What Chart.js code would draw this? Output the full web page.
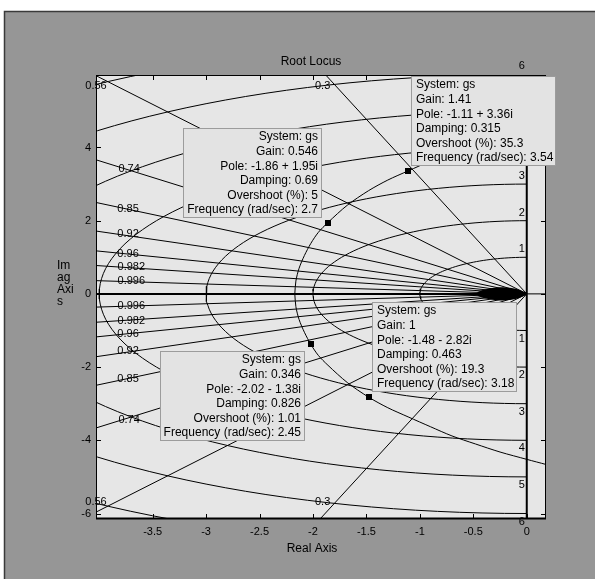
<!DOCTYPE html>
<html>
<head>
<meta charset="utf-8">
<script src="https://cdn.jsdelivr.net/npm/chart.js@4.4.0/dist/chart.umd.min.js"></script>
<style>
  html, body { margin: 0; padding: 0; background: #ffffff; }
</style>
</head>
<body>
<canvas id="rlocus" width="595" height="579"></canvas>
<script>
// axis limits and ticks
var xLimits = [-4.03, 0.18];
var yLimits = [-6.15, 5.98];
var xTickValues = [-3.5, -3, -2.5, -2, -1.5, -1, -0.5, 0];
var yTickValues = [-6, -4, -2, 0, 2, 4];

// sgrid: damping ratios and natural frequencies
var zetaValues = [0.3, 0.56, 0.74, 0.85, 0.92, 0.96, 0.982, 0.996];
var wnValues = [1, 2, 3, 4, 5, 6, 7];
var wnLabelValues = [1, 2, 3, 4, 5, 6];

// root locus branch, upper half (lower half is the mirror)
var locusRe = [-2.17, -2.16, -2.13, -2.08, -2.02, -1.95, -1.86, -1.68, -1.48, -1.30, -1.11, -0.90, -0.70, -0.48, -0.25, 0, 0.18];
var locusIm = [0, 0.35, 0.70, 1.05, 1.38, 1.68, 1.95, 2.42, 2.82, 3.11, 3.36, 3.63, 3.88, 4.10, 4.32, 4.52, 4.66];

// dense branches crowding the origin (upper half)
var nearRe = [-0.46, -0.40, -0.32, -0.24, -0.16, -0.08, 0];
var nearIm = [0.03, 0.09, 0.14, 0.16, 0.15, 0.10, 0];

// data tips
var tipGain = [1.41, 0.546, 1, 0.346];
var tipRe = [-1.11, -1.86, -1.48, -2.02];
var tipIm = [3.36, 1.95, -2.82, -1.38];
var tipDamping = [0.315, 0.69, 0.463, 0.826];
var tipOvershoot = [35.3, 5, 19.3, 1.01];
var tipFreq = [3.54, 2.7, 3.18, 2.45];

// where each tip box sits against its marker
var tipCorner = ['bl', 'br', 'bl', 'tr'];

// damping labels drawn on the grid lines (data coords)
var zetaLabels = [
  { t: '0.56', x: -4.03, y: 5.68 }, { t: '0.74', x: -3.72, y: 3.40 },
  { t: '0.85', x: -3.73, y: 2.33 }, { t: '0.92', x: -3.73, y: 1.63 },
  { t: '0.96', x: -3.73, y: 1.10 }, { t: '0.982', x: -3.70, y: 0.73 },
  { t: '0.996', x: -3.70, y: 0.35 },
  { t: '0.996', x: -3.70, y: -0.32 }, { t: '0.982', x: -3.70, y: -0.74 },
  { t: '0.96', x: -3.73, y: -1.10 }, { t: '0.92', x: -3.73, y: -1.56 },
  { t: '0.85', x: -3.73, y: -2.32 }, { t: '0.74', x: -3.72, y: -3.44 },
  { t: '0.56', x: -4.03, y: -5.68 },
  { t: '0.3', x: -1.91, y: 5.68 }, { t: '0.3', x: -1.91, y: -5.68 }
];

var datasets = [];

// damping lines through the origin
zetaValues.forEach(function (z) {
  var th = Math.acos(z);
  datasets.push({
    data: [{ x: -10 * Math.cos(th), y: 10 * Math.sin(th) }, { x: 0, y: 0 }, { x: -10 * Math.cos(th), y: -10 * Math.sin(th) }],
    borderColor: '#000', borderWidth: 1
  });
});

// natural frequency semicircles
wnValues.forEach(function (r) {
  var pts = [];
  for (var a = 90; a <= 270; a += 2) {
    pts.push({ x: r * Math.cos(a * Math.PI / 180), y: r * Math.sin(a * Math.PI / 180) });
  }
  datasets.push({ data: pts, borderColor: '#000', borderWidth: 1 });
});

// real and imaginary axes
datasets.push({ data: [{ x: -6, y: 0 }, { x: 0, y: 0 }], borderColor: '#000', borderWidth: 2 });
datasets.push({ data: [{ x: 0, y: 0 }, { x: 1, y: 0 }], borderColor: '#000', borderWidth: 1 });
datasets.push({ data: [{ x: 0, y: -8 }, { x: 0, y: 8 }], borderColor: '#000', borderWidth: 2 });

// locus branches
var upper = [], lower = [];
for (var i = 0; i < locusRe.length; i++) {
  upper.push({ x: locusRe[i], y: locusIm[i] });
  lower.push({ x: locusRe[i], y: -locusIm[i] });
}
datasets.push({ data: upper, borderColor: '#000', borderWidth: 1, tension: 0.3 });
datasets.push({ data: lower, borderColor: '#000', borderWidth: 1, tension: 0.3 });

// crowded branches near the origin, filled between the two halves
var nearUp = [], nearLow = [];
for (var j = 0; j < nearRe.length; j++) {
  nearUp.push({ x: nearRe[j], y: nearIm[j] });
  nearLow.push({ x: nearRe[j], y: -nearIm[j] });
}
datasets.push({ data: nearUp, borderColor: '#000', borderWidth: 1.5, tension: 0.3, fill: '+1', backgroundColor: '#000' });
datasets.push({ data: nearLow, borderColor: '#000', borderWidth: 1.5, tension: 0.3 });

function fmt(v) { return String(v); }

var decor = {
  id: 'decor',
  beforeDraw: function (chart) {
    var ctx = chart.ctx, a = chart.chartArea;
    ctx.save();
    ctx.fillStyle = '#ffffff';
    ctx.fillRect(0, 0, chart.width, chart.height);
    ctx.fillStyle = '#969696';
    ctx.fillRect(4, 11, chart.width - 4, chart.height - 11);
    ctx.strokeStyle = '#3a3a3a';
    ctx.lineWidth = 1.5;
    ctx.beginPath();
    ctx.moveTo(4.5, chart.height); ctx.lineTo(4.5, 11.5); ctx.lineTo(chart.width, 11.5);
    ctx.stroke();
    ctx.fillStyle = '#e6e6e6';
    ctx.fillRect(a.left, a.top, a.right - a.left, a.bottom - a.top);
    ctx.restore();
  },
  afterDatasetsDraw: function (chart) {
    var ctx = chart.ctx, a = chart.chartArea;
    var sx = chart.scales.x, sy = chart.scales.y;
    ctx.save();

    // frame and inward ticks
    ctx.strokeStyle = '#000';
    ctx.lineWidth = 1;
    ctx.strokeRect(a.left + 0.5, a.top + 0.5, a.right - a.left - 1, a.bottom - a.top - 1);
    ctx.beginPath();
    xTickValues.forEach(function (v) {
      var px = Math.round(sx.getPixelForValue(v)) + 0.5;
      ctx.moveTo(px, a.bottom); ctx.lineTo(px, a.bottom - 5);
      ctx.moveTo(px, a.top); ctx.lineTo(px, a.top + 5);
    });
    yTickValues.forEach(function (v) {
      var py = Math.round(sy.getPixelForValue(v)) + 0.5;
      ctx.moveTo(a.left, py); ctx.lineTo(a.left + 5, py);
      ctx.moveTo(a.right, py); ctx.lineTo(a.right - 5, py);
    });
    ctx.stroke();
    ctx.lineWidth = 2;
    ctx.beginPath();
    ctx.moveTo(a.left, a.bottom - 0.5); ctx.lineTo(a.right, a.bottom - 0.5);
    ctx.stroke();

    // grid labels
    ctx.fillStyle = '#000';
    ctx.font = '11px "Liberation Sans", Arial, sans-serif';
    ctx.textAlign = 'center';
    ctx.textBaseline = 'middle';
    zetaLabels.forEach(function (l) {
      ctx.fillText(l.t, sx.getPixelForValue(l.x), sy.getPixelForValue(l.y));
    });
    ctx.textAlign = 'right';
    var x0 = sx.getPixelForValue(0) - 2;
    wnLabelValues.forEach(function (r) {
      ctx.fillText(String(r), x0, sy.getPixelForValue(r) - 8);
      ctx.fillText(String(r), x0, sy.getPixelForValue(-r) + 8);
    });

    // data tips
    ctx.font = '12px "Liberation Sans", Arial, sans-serif';
    for (var k = 0; k < tipRe.length; k++) {
      var mx = sx.getPixelForValue(tipRe[k]), my = sy.getPixelForValue(tipIm[k]);
      var sign = tipIm[k] < 0 ? ' - ' : ' + ';
      var lines = [
        'System: gs',
        'Gain: ' + fmt(tipGain[k]),
        'Pole: ' + fmt(tipRe[k]) + sign + fmt(Math.abs(tipIm[k])) + 'i',
        'Damping: ' + fmt(tipDamping[k]),
        'Overshoot (%): ' + fmt(tipOvershoot[k]),
        'Frequency (rad/sec): ' + fmt(tipFreq[k])
      ];
      var w = 0;
      lines.forEach(function (s) { w = Math.max(w, ctx.measureText(s).width); });
      w = Math.round(w + 8);
      var h = 90;
      var c = tipCorner[k];
      var bx = c.charAt(1) === 'l' ? mx + 3 : mx - 6 - w;
      var by = c.charAt(0) === 'b' ? my - 5 - h : my + 7;
      bx = Math.round(bx); by = Math.round(by);
      ctx.fillStyle = '#e3e3e3';
      ctx.fillRect(bx, by, w, h);
      ctx.strokeStyle = '#9c9c9c';
      ctx.lineWidth = 1;
      ctx.strokeRect(bx + 0.5, by + 0.5, w - 1, h - 1);
      ctx.fillStyle = '#000';
      ctx.textBaseline = 'middle';
      var right = c.charAt(1) === 'r';
      ctx.textAlign = right ? 'right' : 'left';
      lines.forEach(function (s, j) {
        ctx.fillText(s, right ? bx + w - 4 : bx + 5, by + 9 + j * 14.6);
      });
      ctx.fillRect(Math.round(mx) - 3, Math.round(my) - 3, 6, 6);
    }

    // titles
    ctx.fillStyle = '#000';
    ctx.font = '12px "Liberation Sans", Arial, sans-serif';
    ctx.textAlign = 'center';
    ctx.fillText('Root Locus', 311, 62);
    ctx.fillText('Real Axis', 312, 549);
    ctx.textAlign = 'left';
    ['Im', 'ag', 'Axi', 's'].forEach(function (s, j) {
      ctx.fillText(s, 57, 266 + j * 12);
    });
    ctx.restore();
  }
};

new Chart(document.getElementById('rlocus'), {
  type: 'scatter',
  data: { datasets: datasets },
  options: {
    responsive: false,
    animation: false,
    showLine: true,
    layout: { padding: { left: 0, top: 75, right: 49, bottom: 0 } },
    elements: { point: { radius: 0 }, line: { fill: false } },
    plugins: { legend: { display: false }, tooltip: { enabled: false }, title: { display: false } },
    scales: {
      x: {
        type: 'linear', min: xLimits[0], max: xLimits[1],
        grid: { display: false, drawTicks: false }, border: { display: false },
        afterBuildTicks: function (s) { s.ticks = xTickValues.map(function (v) { return { value: v }; }); },
        afterFit: function (s) { s.height = 60; },
        ticks: { color: '#000', padding: 6, maxRotation: 0, font: { family: 'Liberation Sans', size: 11 }, callback: function (v) { return String(v); } }
      },
      y: {
        type: 'linear', min: yLimits[0], max: yLimits[1],
        grid: { display: false, drawTicks: false }, border: { display: false },
        afterBuildTicks: function (s) { s.ticks = yTickValues.map(function (v) { return { value: v }; }); },
        afterFit: function (s) { s.width = 96; },
        ticks: { color: '#000', padding: 5, font: { family: 'Liberation Sans', size: 11 }, callback: function (v) { return String(v); } }
      }
    }
  },
  plugins: [decor]
});
</script>
</body>
</html>
